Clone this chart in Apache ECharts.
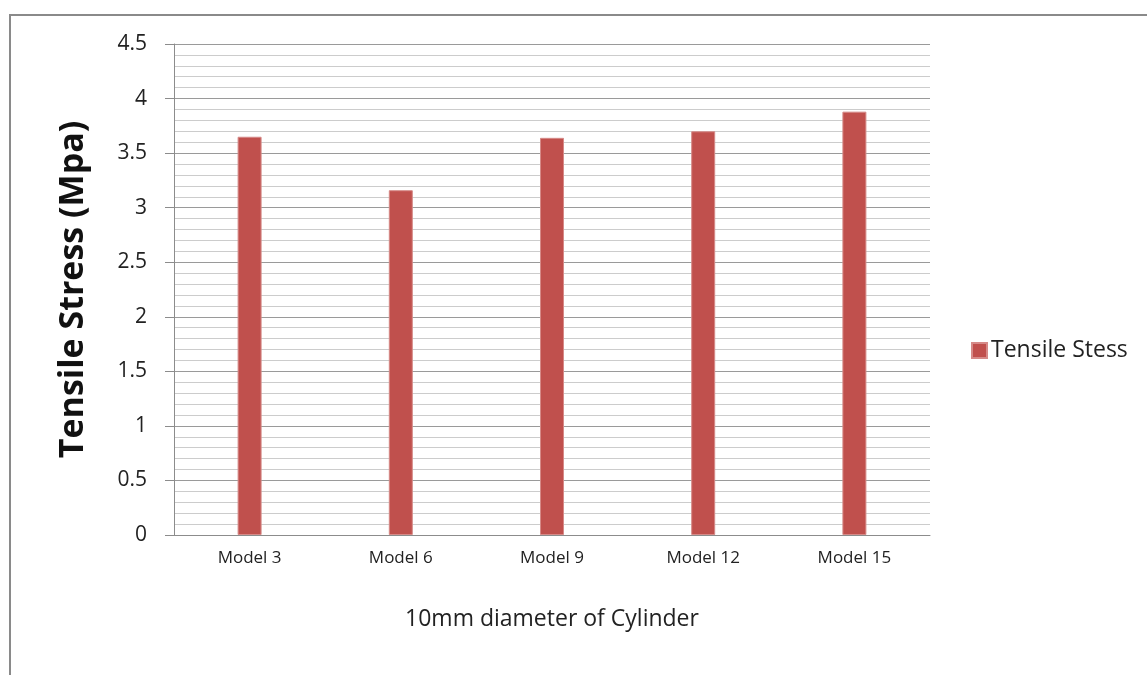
<!DOCTYPE html>
<html>
<head>
<meta charset="utf-8">
<script src="https://cdn.jsdelivr.net/npm/echarts@6/dist/echarts.min.js"></script>
<style>
html,body{margin:0;padding:0;background:#fff;overflow:hidden;}
#frame{position:absolute;left:9px;top:14px;width:1200px;height:700px;border-left:2px solid #8a8a8a;border-top:2px solid #8a8a8a;box-sizing:border-box;}
#chart{position:absolute;left:0;top:0;width:1147px;height:675px;}
</style>
</head>
<body>
<div id="frame"></div>
<div id="chart"></div>
<script>
const categories = ['Model 3', 'Model 6', 'Model 9', 'Model 12', 'Model 15'];
const tensileStress = [3.65, 3.16, 3.64, 3.70, 3.88];
const seriesName = 'Tensile Stess';
const xAxisTitle = '10mm diameter of Cylinder';
const yAxisTitle = 'Tensile Stress (Mpa)';

const chart = echarts.init(document.getElementById('chart'), null, {renderer: 'canvas'});
const font = '"Open Sans", sans-serif';
chart.setOption({
  animation: false,
  backgroundColor: 'transparent',
  textStyle: {fontFamily: font},
  grid: {left: 174, right: 217, top: 44, bottom: 140, containLabel: false},
  legend: {
    data: [seriesName],
    left: 966, top: 334,
    orient: 'vertical',
    icon: 'rect', itemWidth: 15, itemHeight: 15, itemGap: 6,
    textStyle: {fontSize: 23, color: '#222', fontFamily: font, padding: [0,0,0,-1]}
  },
  xAxis: {
    type: 'category',
    data: categories,
    name: xAxisTitle,
    nameLocation: 'middle',
    nameGap: 73,
    nameTextStyle: {fontSize: 23, color: '#222', fontFamily: font},
    axisLine: {lineStyle: {color: '#8c8c8c', width: 1}},
    axisTick: {show: false},
    axisLabel: {fontSize: 17, color: '#222', margin: 15, fontFamily: font},
    splitLine: {show: false}
  },
  yAxis: {
    type: 'value',
    min: 0, max: 4.5, interval: 0.5,
    name: yAxisTitle,
    nameLocation: 'middle',
    nameGap: 84,
    nameTextStyle: {fontSize: 34, fontWeight: 'bold', color: '#111', fontFamily: font},
    axisLine: {show: true, lineStyle: {color: '#8c8c8c', width: 1}},
    axisTick: {show: true, inside: false, length: 9, lineStyle: {color: '#8c8c8c'}},
    axisLabel: {fontSize: 21, color: '#222', margin: 27, fontFamily: font},
    splitLine: {show: true, lineStyle: {color: '#9a9a9a', width: 1}},
    minorTick: {show: false, splitNumber: 5},
    minorSplitLine: {show: true, lineStyle: {color: '#cccccc', width: 1}}
  },
  series: [{
    name: seriesName,
    type: 'bar',
    data: tensileStress,
    barWidth: 24,
    itemStyle: {color: '#c0504d', borderColor: '#d68a88', borderWidth: 1}
  }]
});
</script>
</body>
</html>
